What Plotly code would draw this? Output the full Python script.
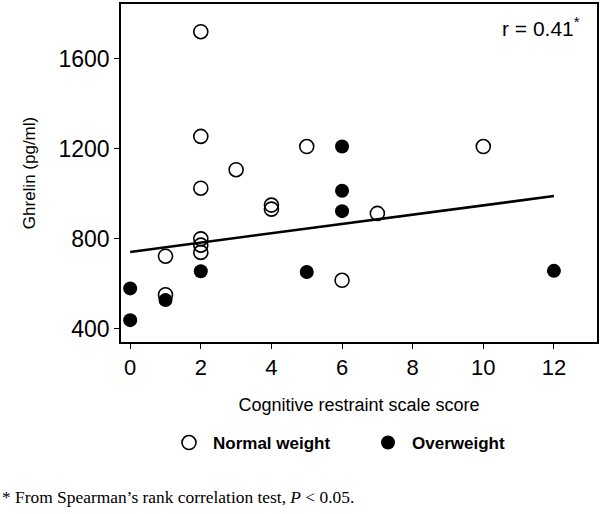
import plotly.graph_objects as go

# Normal weight (open circles)
normal_x = [2, 2, 2, 3, 5, 10, 4, 4, 2, 2, 2, 1, 1, 6, 7]
normal_y = [1720, 1255, 1025, 1107, 1210, 1210, 950, 932, 800, 772, 740, 723, 552, 616, 913]

# Overweight (filled circles)
over_x = [0, 0, 1, 2, 5, 6, 6, 6, 12]
over_y = [580, 439, 528, 656, 653, 1210, 1014, 923, 658]

# Regression line endpoints
fit_x = [0, 12]
fit_y = [742, 990]

x_ticks = [0, 2, 4, 6, 8, 10, 12]
y_ticks = [400, 800, 1200, 1600]

FONT = "Liberation Sans, Arial, sans-serif"
L, R, T, B = 121, 5, 4, 172
PW = 602 - L - R
PH = 514 - T - B

fig = go.Figure()
fig.add_trace(go.Scatter(
    x=fit_x, y=fit_y, mode="lines",
    line=dict(color="black", width=2.5), showlegend=False, hoverinfo="skip"))
fig.add_trace(go.Scatter(
    x=normal_x, y=normal_y, mode="markers", name="Normal weight",
    marker=dict(symbol="circle-open", size=14, color="black", line=dict(width=1.6, color="black"))))
fig.add_trace(go.Scatter(
    x=over_x, y=over_y, mode="markers", name="Overweight",
    marker=dict(symbol="circle", size=14, color="black", line=dict(width=0))))

fig.update_layout(
    width=602, height=514,
    margin=dict(l=L, r=R, t=T, b=B, autoexpand=False),
    paper_bgcolor="white", plot_bgcolor="white",
    font=dict(family=FONT, color="black"),
    showlegend=True,
    legend=dict(
        orientation="h", xref="paper", yref="paper",
        x=(165 - L) / PW, xanchor="left", y=-(443 - (T + PH)) / PH, yanchor="middle",
        entrywidth=146, entrywidthmode="pixels", itemwidth=38,
        font=dict(family=FONT, size=17, color="black", weight="bold"),
        bgcolor="rgba(0,0,0,0)", borderwidth=0),
    xaxis=dict(
        range=[-0.26, 13.22], tickvals=x_ticks, ticks="outside", ticklen=5,
        tickwidth=1.2, tickcolor="black", showgrid=False, zeroline=False,
        showline=True, linecolor="black", linewidth=1.5, mirror=True,
        automargin=False,
        tickfont=dict(family=FONT, size=22, color="black"),
        title=dict(text="Cognitive restraint scale score", standoff=19,
                   font=dict(family=FONT, size=18, color="black"))),
    yaxis=dict(
        range=[342, 1843], tickvals=y_ticks, ticks="outside", ticklen=5,
        tickwidth=1.2, tickcolor="black", showgrid=False, zeroline=False,
        showline=True, linecolor="black", linewidth=1.5, mirror=True,
        automargin=False,
        tickfont=dict(family=FONT, size=23, color="black"),
        title=dict(text="Ghrelin (pg/ml)", standoff=19,
                   font=dict(family=FONT, size=17, color="black"))),
    annotations=[
        dict(text="r = 0.41<sup>*</sup>", xref="paper", yref="paper",
             x=(582 - L) / PW, y=1 - (27 - T) / PH, xanchor="right", yanchor="middle",
             showarrow=False, font=dict(family=FONT, size=21, color="black")),
        dict(text="* From Spearman\u2019s rank correlation test, <i>P</i> < 0.05.",
             xref="paper", yref="paper", x=(0 - L) / PW, y=-(497 - (T + PH)) / PH,
             xanchor="left", yanchor="middle", showarrow=False,
             font=dict(family="Liberation Serif, Times New Roman, serif", size=17.4, color="black")),
    ],
)

fig.write_html("out.html", config={"displayModeBar": False},
               post_script="document.body.style.margin='0';")
